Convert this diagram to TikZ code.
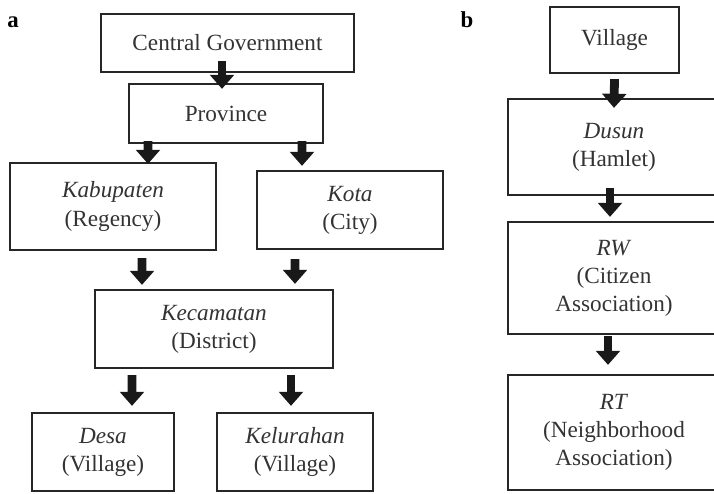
\documentclass[tikz,border=0pt]{standalone}
\usepackage{fontspec}
\setmainfont{Liberation Serif}
\usepackage{tikz}
\usetikzlibrary{arrows.meta}

\begin{document}
\begin{tikzpicture}[
  box/.style={draw=black!85, line width=1.3pt, align=center, inner sep=0pt, text=black!80, font=\fontsize{13.2}{16}\selectfont},
  flow/.style={->, line width=5pt, black!90},
  tag/.style={font=\fontsize{13}{15}\selectfont\bfseries},
]
\tikzset{>={Triangle[length=8pt, width=13.5pt]}}
\useasboundingbox (0,0) rectangle (14.28,-9.86);

% panel a
\node[tag] (la) at (0.26,-0.44) {a};
\node[box, minimum width=5.06cm, minimum height=1.16cm] (Central) at (4.55,-0.86) {Central Government};
\node[box, minimum width=3.88cm, minimum height=1.18cm] (Province) at (4.52,-2.27) {Province};
\node[box, minimum width=4.12cm, minimum height=1.74cm] (Kab) at (2.26,-4.13) {\textit{Kabupaten}\\(Regency)};
\node[box, minimum width=3.72cm, minimum height=1.56cm] (Kota) at (7.00,-4.20) {\textit{Kota}\\(City)};
\node[box, minimum width=4.76cm, minimum height=1.56cm] (Kec) at (4.28,-6.58) {\textit{Kecamatan}\\(District)};
\node[box, minimum width=2.84cm, minimum height=1.56cm] (Desa) at (2.06,-9.04) {\textit{Desa}\\(Village)};
\node[box, minimum width=3.12cm, minimum height=1.56cm] (Kel) at (5.90,-9.04) {\textit{Kelurahan}\\(Village)};

\draw[flow] ([xshift=-0.11cm,yshift=0.24cm]Central.south) -- ([xshift=-0.08cm,yshift=-0.12cm]Province.north);
\draw[flow] ([xshift=-1.56cm,yshift=0.06cm]Province.south) -- ([xshift=0.70cm,yshift=-0.04cm]Kab.north);
\draw[flow] ([xshift=1.52cm,yshift=0.06cm]Province.south) -- ([xshift=-0.96cm,yshift=0.08cm]Kota.north);
\draw[flow] ([xshift=0.58cm,yshift=-0.14cm]Kab.south) -- ([xshift=-1.44cm,yshift=0.08cm]Kec.north);
\draw[flow] ([xshift=-1.10cm,yshift=-0.18cm]Kota.south) -- ([xshift=1.62cm,yshift=0.10cm]Kec.north);
\draw[flow] ([xshift=-1.64cm,yshift=-0.12cm]Kec.south) -- ([xshift=0.58cm,yshift=0.12cm]Desa.north);
\draw[flow] ([xshift=1.54cm,yshift=-0.12cm]Kec.south) -- ([xshift=-0.08cm,yshift=0.12cm]Kel.north);

% panel b
\node[tag] (lb) at (9.34,-0.40) {b};
\node[box, minimum width=2.58cm, minimum height=1.32cm] (Village) at (12.29,-0.80) {Village};
\node[box, minimum width=4.24cm, minimum height=1.92cm] (Dusun) at (12.28,-2.94) {\textit{Dusun}\\(Hamlet)};
\node[box, minimum width=4.24cm, minimum height=2.24cm] (RW) at (12.28,-5.56) {\textit{RW}\\(Citizen\\Association)};
\node[box, minimum width=4.24cm, minimum height=2.30cm] (RT) at (12.28,-8.65) {\textit{RT}\\(Neighborhood\\Association)};

\draw[flow] ([yshift=-0.10cm]Village.south) -- ([yshift=-0.20cm]Dusun.north);
\draw[flow] ([xshift=-0.08cm,yshift=0.16cm]Dusun.south) -- ([xshift=-0.08cm,yshift=0.08cm]RW.north);
\draw[flow] ([xshift=-0.12cm,yshift=-0.02cm]RW.south) -- ([xshift=-0.12cm,yshift=0.18cm]RT.north);
\end{tikzpicture}
\end{document}
